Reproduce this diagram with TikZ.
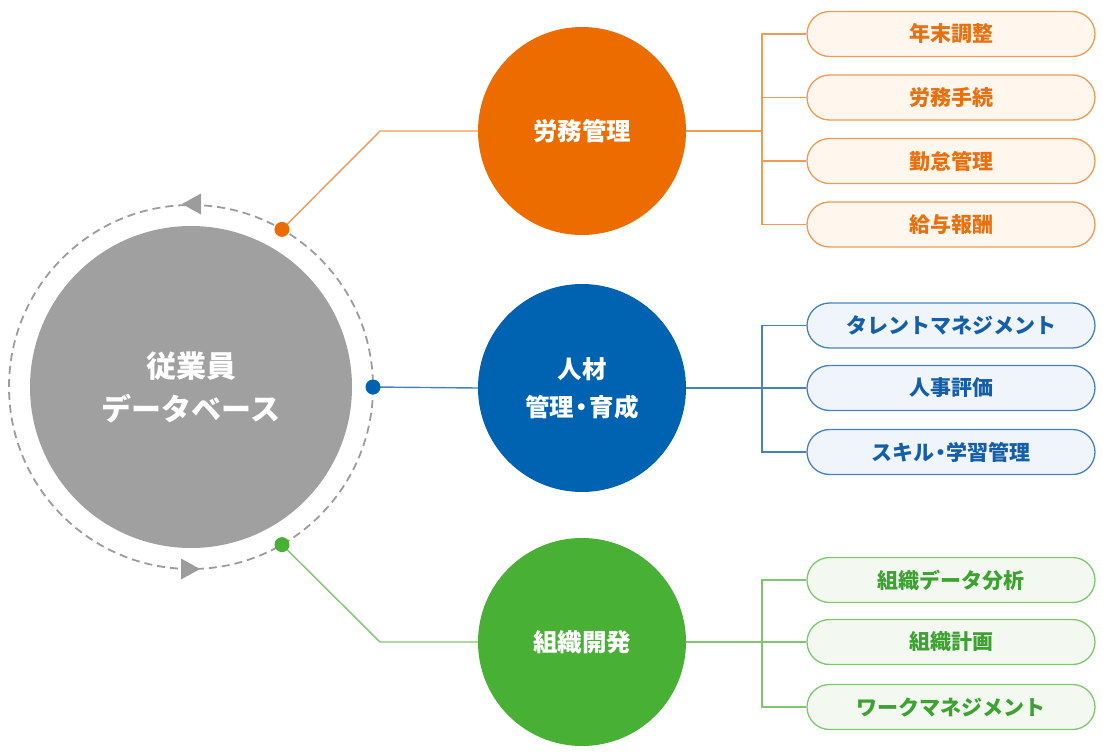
\documentclass[tikz,border=0pt]{standalone}
\usepackage{fontspec}
\setmainfont{Noto Sans CJK JP}
\usetikzlibrary{calc}
\definecolor{dbgray}{HTML}{A0A0A0}
\definecolor{dashgray}{HTML}{9C9C9C}
\definecolor{org}{HTML}{EC6C00}
\definecolor{orgtext}{HTML}{E8700E}
\definecolor{orgline}{HTML}{EF9A55}
\definecolor{orgfill}{HTML}{FFF6EE}
\definecolor{blu}{HTML}{0063B2}
\definecolor{blutext}{HTML}{155FA9}
\definecolor{bluline}{HTML}{4682BE}
\definecolor{blufill}{HTML}{EFF5FB}
\definecolor{grn}{HTML}{48B035}
\definecolor{grntext}{HTML}{3EA232}
\definecolor{grnline}{HTML}{7EC770}
\definecolor{grnfill}{HTML}{F3F9F0}
\begin{document}
\begin{tikzpicture}[x=1pt,y=-1pt,
  bigc/.style={circle, minimum size=208pt, inner sep=0pt, align=center, text=white,
    font=\bfseries\fontsize{24.5}{38}\selectfont},
  leaf/.style={draw, rounded corners=22.5pt, minimum width=288pt, minimum height=45pt,
    inner sep=0pt, line width=1.3pt, font=\bfseries\fontsize{21}{25}\selectfont},
  dotn/.style={circle, minimum size=15pt, inner sep=0pt},
  link/.style={line width=1.4pt},
  orgleaf/.style={leaf, draw=orgline, fill=orgfill, text=orgtext},
  bluleaf/.style={leaf, draw=bluline, fill=blufill, text=blutext},
  grnleaf/.style={leaf, draw=grnline, fill=grnfill, text=grntext}]
\useasboundingbox (0,0) rectangle (1103,752);

% central database
\node[circle, fill=dbgray, minimum size=322pt, inner sep=0pt, text=white, align=center,
  font=\bfseries\fontsize{30}{43}\selectfont] (db) at (191,387) {従業員\\データベース};
\draw[dashgray, line width=1.8pt, dash pattern=on 8pt off 5pt] (db.center) circle[radius=182];
\coordinate (atop) at ($(db.center)+(0,-183)$);
\coordinate (abot) at ($(db.center)+(0,182)$);
\fill[dashgray] ($(atop)+(-9,0)$) -- ($(atop)+(10,-10.5)$) -- ($(atop)+(10,10.5)$) -- cycle;
\fill[dashgray] ($(abot)+(9,0)$) -- ($(abot)+(-10,-10.5)$) -- ($(abot)+(-10,10.5)$) -- cycle;

% category circles
\node[bigc, fill=org] (c1) at (582,131) {労務管理};
\node[bigc, fill=blu] (c2) at (582,388) {人材\\管理\kern-0.18em・\kern-0.18em 育成};
\node[bigc, fill=grn] (c3) at (582,642) {組織開発};

% connectors from the ring
\coordinate (k1) at (380,131);
\coordinate (k3) at (380,642);
\draw[link, orgline] ($(db.center)+(-60:182)$) -- (k1) -- (c1.west);
\draw[link, bluline] ($(db.center)+(0:182)$) -- (c2.west);
\draw[link, grnline] ($(db.center)+(60:182)$) -- (k3) -- (c3.west);
\node[dotn, fill=org] (p1) at ($(db.center)+(-60:182)$) {};
\node[dotn, fill=blu] (p2) at ($(db.center)+(0:182)$) {};
\node[dotn, fill=grn] (p3) at ($(db.center)+(60:182)$) {};

% leaves
\node[orgleaf] (b11) at (951,34) {年末調整};
\node[orgleaf] (b12) at (951,97.5) {労務手続};
\node[orgleaf] (b13) at (951,161) {勤怠管理};
\node[orgleaf] (b14) at (951,224.5) {給与報酬};

\node[bluleaf] (b21) at (951,325.5) {タレントマネジメント};
\node[bluleaf] (b22) at (951,388) {人事評価};
\node[bluleaf] (b23) at (951,452) {スキル\kern-0.2em・\kern-0.2em 学習管理};

\node[grnleaf] (b31) at (951,580) {組織データ分析};
\node[grnleaf] (b32) at (951,642) {組織計画};
\node[grnleaf] (b33) at (951,707) {ワークマネジメント};

% tree connectors
\coordinate (j1) at (762,131);
\coordinate (j2) at (762,388);
\coordinate (j3) at (762,642);
\draw[link, orgline] (c1.east) -- (j1);
\foreach \b in {b11,b12,b13,b14} \draw[link, orgline] (j1) |- (\b.west);
\draw[link, bluline] (c2.east) -- (j2);
\foreach \b in {b21,b22,b23} \draw[link, bluline] (j2) |- (\b.west);
\draw[link, grnline] (c3.east) -- (j3);
\foreach \b in {b31,b32,b33} \draw[link, grnline] (j3) |- (\b.west);
\end{tikzpicture}
\end{document}
